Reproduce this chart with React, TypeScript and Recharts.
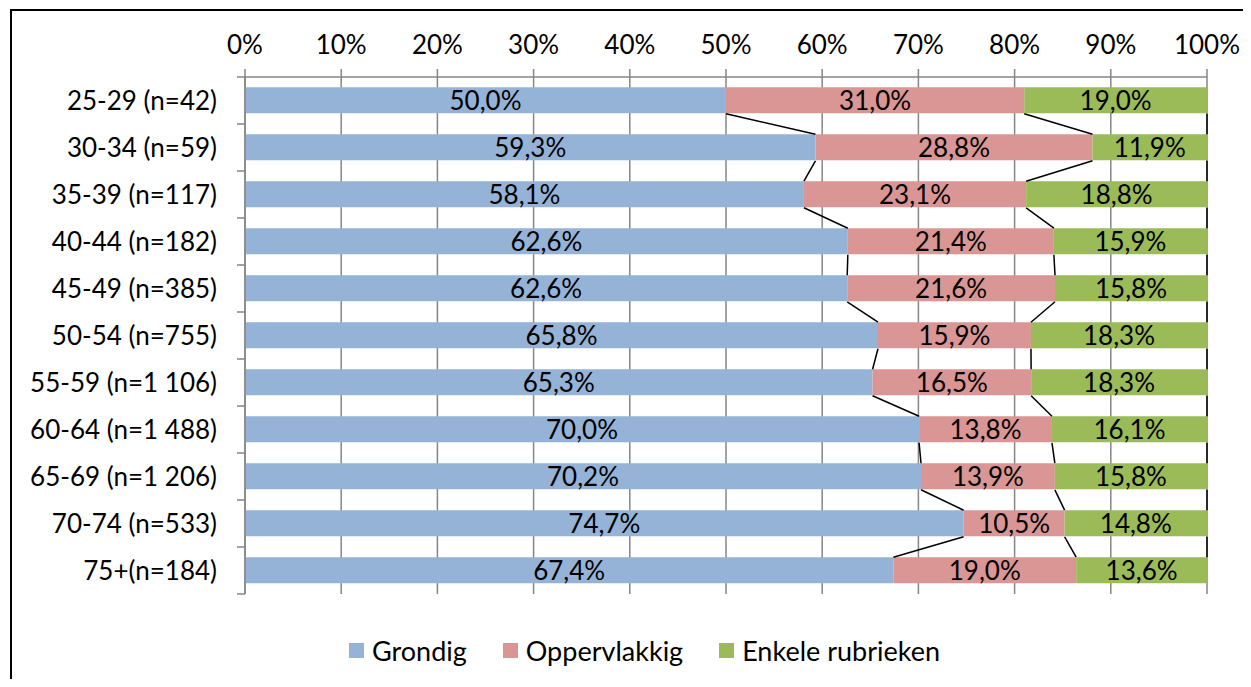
import {
  ComposedChart,
  Bar,
  XAxis,
  YAxis,
  CartesianGrid,
  LabelList,
  Legend,
  ReferenceLine,
} from 'recharts';

const categories = [
  '25-29 (n=42)',
  '30-34 (n=59)',
  '35-39 (n=117)',
  '40-44 (n=182)',
  '45-49 (n=385)',
  '50-54 (n=755)',
  '55-59 (n=1 106)',
  '60-64 (n=1 488)',
  '65-69 (n=1 206)',
  '70-74 (n=533)',
  '75+(n=184)',
];

const grondig = [50.0, 59.3, 58.1, 62.6, 62.6, 65.8, 65.3, 70.0, 70.2, 74.7, 67.4];
const oppervlakkig = [31.0, 28.8, 23.1, 21.4, 21.6, 15.9, 16.5, 13.8, 13.9, 10.5, 19.0];
const enkele = [19.0, 11.9, 18.8, 15.9, 15.8, 18.3, 18.3, 16.1, 15.8, 14.8, 13.6];

const seriesKeys = ['grondig', 'oppervlakkig', 'enkele'];
const seriesNames = ['Grondig', 'Oppervlakkig', 'Enkele rubrieken'];
const seriesColors = ['#95B3D7', '#D99694', '#9BBB59'];

const xTicks = [0, 0.1, 0.2, 0.3, 0.4, 0.5, 0.6, 0.7, 0.8, 0.9, 1];

const FONT = 'Lato, "Open Sans", sans-serif';
const GRID = '#868686';
const BAR_GAP = 0.22; // barCategoryGap per side
const EDGE = 0.5 - BAR_GAP + 0.003; // bar edge distance from band centre, in bands

const data = categories.map((name, i) => ({
  name,
  grondig: grondig[i],
  oppervlakkig: oppervlakkig[i],
  enkele: enkele[i],
}));

// cumulative share at the right end of each segment, per row
const boundaries = data.map((d) => {
  const total = d.grondig + d.oppervlakkig + d.enkele;
  return [d.grondig / total, (d.grondig + d.oppervlakkig) / total, 1];
});

// series lines (Excel style): right end of a segment, bar i bottom -> bar i+1 top
const SeriesLine = (p: any) => {
  const step = p.y2 - p.y1;
  return (
    <line
      x1={p.x1}
      y1={p.y1 + step * EDGE}
      x2={p.x2}
      y2={p.y2 - step * EDGE}
      stroke="#000"
      strokeWidth={1.5}
    />
  );
};

// tick marks between categories on the left axis
const BoundaryTick = (p: any) => {
  const step = p.y2 - p.y1;
  const ys = [(p.y1 + p.y2) / 2];
  if (p.first) ys.push(p.y1 - step / 2);
  if (p.last) ys.push(p.y2 + step / 2);
  return (
    <g>
      {ys.map((y, k) => (
        <line key={k} x1={p.x1 - 8} y1={y} x2={p.x1} y2={y} stroke={GRID} strokeWidth={1.5} />
      ))}
    </g>
  );
};

const fmtPct = (v: any) => `${Number(v).toFixed(1).replace('.', ',')}%`;

const renderLegend = () => (
  <div
    style={{
      display: 'flex',
      justifyContent: 'center',
      alignItems: 'center',
      gap: 36,
      fontFamily: FONT,
      fontSize: 27,
      color: '#000',
    }}
  >
    {seriesNames.map((n, i) => (
      <div key={n} style={{ display: 'flex', alignItems: 'center' }}>
        <span style={{ width: 15, height: 15, background: seriesColors[i], marginRight: 8, display: 'inline-block' }} />
        <span>{n}</span>
      </div>
    ))}
  </div>
);

export default function App() {
  const labelStyle = { fontFamily: FONT, fontSize: 26, fill: '#000' };
  const gaps = categories.slice(0, -1).map((c, i) => i);
  return (
    <div
      style={{
        marginLeft: 2,
        marginTop: 1,
        width: 1233,
        height: 670,
        borderLeft: '2px solid #000',
        borderTop: '2px solid #000',
        overflow: 'hidden',
        boxSizing: 'border-box',
        background: '#fff',
      }}
    >
      <ComposedChart
        width={1265}
        height={668}
        data={data}
        layout="vertical"
        stackOffset="expand"
        barCategoryGap={`${BAR_GAP * 100}%`}
        margin={{ top: 0, right: 70, bottom: 85, left: 0 }}
      >
        <CartesianGrid horizontal={false} stroke={GRID} strokeWidth={1.5} />
        <XAxis
          type="number"
          orientation="top"
          domain={[0, 1]}
          ticks={xTicks}
          interval={0}
          height={66}
          tickSize={8}
          tickMargin={15}
          tickFormatter={(v: number) => `${Math.round(v * 100)}%`}
          axisLine={{ stroke: GRID, strokeWidth: 1.5 }}
          tickLine={{ stroke: GRID, strokeWidth: 1.5 }}
          tick={labelStyle}
        />
        <YAxis
          type="category"
          dataKey="name"
          width={233}
          axisLine={{ stroke: GRID, strokeWidth: 1.5 }}
          tickLine={false}
          tickSize={8}
          tickMargin={20}
          interval={0}
          tick={labelStyle}
        />
        {seriesKeys.map((k, s) => (
          <Bar
            key={k}
            dataKey={k}
            name={seriesNames[s]}
            stackId="a"
            fill={seriesColors[s]}
            isAnimationActive={false}
          >
            <LabelList dataKey={k} position="center" formatter={fmtPct} style={labelStyle} />
          </Bar>
        ))}
        {gaps.map((i) => (
          <ReferenceLine
            key={`t${i}`}
            segment={[
              { x: 0, y: categories[i] },
              { x: 0, y: categories[i + 1] },
            ]}
            ifOverflow="visible"
            shape={(p: any) => <BoundaryTick {...p} first={i === 0} last={i === gaps.length - 1} />}
          />
        ))}
        {gaps.map((i) =>
          [0, 1, 2].map((b) => (
            <ReferenceLine
              key={`s${i}-${b}`}
              segment={[
                { x: boundaries[i][b], y: categories[i] },
                { x: boundaries[i + 1][b], y: categories[i + 1] },
              ]}
              ifOverflow="visible"
              shape={SeriesLine}
            />
          ))
        )}
        <Legend
          verticalAlign="middle"
          layout="horizontal"
          align="center"
          content={renderLegend}
          wrapperStyle={{ top: 623, left: 0, width: 1265 }}
        />
      </ComposedChart>
    </div>
  );
}
